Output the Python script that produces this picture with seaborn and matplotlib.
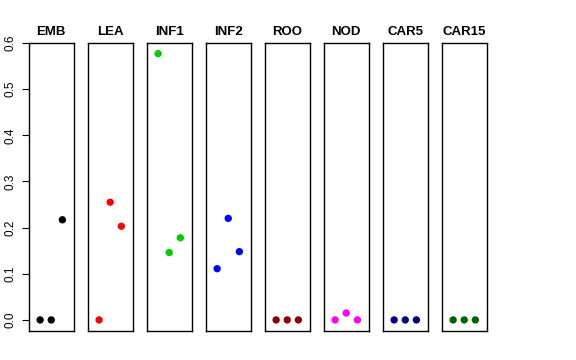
import matplotlib
matplotlib.use('Agg')
import matplotlib.pyplot as plt
import seaborn as sns
import pandas as pd

sns.set_style('white')
plt.rcParams['font.family'] = ['Liberation Sans', 'DejaVu Sans']
plt.rcParams['text.color'] = 'black'
plt.rcParams['axes.labelcolor'] = 'black'
plt.rcParams['ytick.color'] = 'black'

tissues = ['EMB', 'LEA', 'INF1', 'INF2', 'ROO', 'NOD', 'CAR5', 'CAR15']
colors = ['black', 'red', '#00CD00', 'blue', '#8B0000', 'magenta', '#000080', '#006400']
positions = [1, 2, 3]
values = {
    'EMB':   [0.0, 0.0, 0.217],
    'LEA':   [0.0, 0.255, 0.203],
    'INF1':  [0.577, 0.146, 0.178],
    'INF2':  [0.111, 0.220, 0.148],
    'ROO':   [0.0, 0.0, 0.0],
    'NOD':   [0.0, 0.015, 0.0],
    'CAR5':  [0.0, 0.0, 0.0],
    'CAR15': [0.0, 0.0, 0.0],
}
yticks = [0.0, 0.1, 0.2, 0.3, 0.4, 0.5, 0.6]

W, H = 576, 360
fig = plt.figure(figsize=(W / 100, H / 100), dpi=100)

for i, (t, c) in enumerate(zip(tissues, colors)):
    left = 29 + i * 59
    ax = fig.add_axes([left / W, (H - 331) / H, 44.5 / W, 288 / H])
    df = pd.DataFrame({'x': positions, 'y': values[t]})
    sns.scatterplot(data=df, x='x', y='y', color=c, s=28, edgecolor='none', ax=ax)
    ax.set_xlim(0, 4)
    ax.set_ylim(-0.024, 0.6)
    ax.set_xticks([])
    ax.set_xlabel('')
    ax.set_ylabel('')
    ax.set_title(t, fontsize=9.5, fontweight='bold', pad=6, color='black')
    for sp in ax.spines.values():
        sp.set_visible(True)
        sp.set_color('black')
        sp.set_linewidth(1)
    if i == 0:
        ax.set_yticks(yticks)
        ax.set_yticklabels([f'{v:.1f}' for v in yticks], rotation=90, va='center', fontsize=8.5)
        ax.tick_params(axis='y', left=True, length=5, width=0.8, pad=4, colors='black')
    else:
        ax.set_yticks([])

fig.savefig('out.png', dpi=100)
